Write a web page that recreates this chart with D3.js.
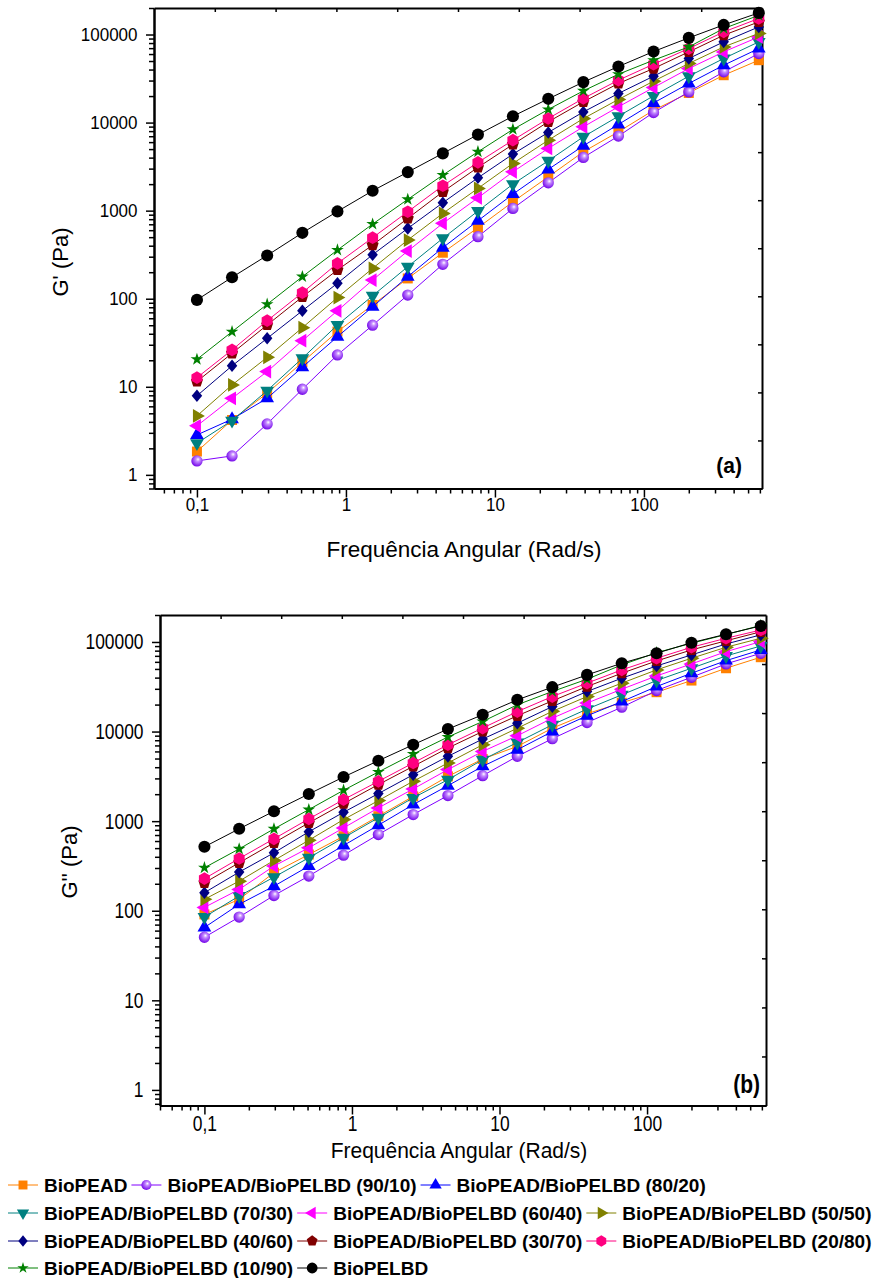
<!DOCTYPE html>
<html>
<head>
<meta charset="utf-8">
<script src="https://cdn.jsdelivr.net/npm/d3@7"></script>
<style>
body { margin: 0; background: #fff; }
svg { display: block; font-family: "Liberation Sans", Arial, sans-serif; }
</style>
</head>
<body>
<script>
// angular frequency (rad/s), same sweep for both panels
var freq = [0.1, 0.172, 0.296, 0.51, 0.877, 1.51, 2.6, 4.47, 7.69, 13.2, 22.8, 39.2, 67.4, 116, 200, 343, 590];

var seriesNames = [
    "BioPEAD",
    "BioPEAD/BioPELBD (90/10)",
    "BioPEAD/BioPELBD (80/20)",
    "BioPEAD/BioPELBD (70/30)",
    "BioPEAD/BioPELBD (60/40)",
    "BioPEAD/BioPELBD (50/50)",
    "BioPEAD/BioPELBD (40/60)",
    "BioPEAD/BioPELBD (30/70)",
    "BioPEAD/BioPELBD (20/80)",
    "BioPEAD/BioPELBD (10/90)",
    "BioPELBD"
];
var seriesColors = ["#ff8000", "#8000ff", "#0000ff", "#008080", "#ff00ff", "#808000",
    "#000080", "#800000", "#ff0080", "#008000", "#000000"];
var seriesShapes = ["square", "sphere", "triUp", "triDown", "triLeft", "triRight",
    "diamond", "pentagon", "hexagon", "star", "circle"];

// G' (Pa), storage modulus, panel (a)
var gStorage = [
    [1.84, 4.2, 8.45, 19, 42.3, 85, 170, 333, 640, 1260, 2420, 4660, 7850, 13800, 21700, 34500, 51100],
    [1.44, 1.64, 3.79, 9.38, 23, 50, 110, 246, 506, 1060, 2070, 4020, 7020, 13000, 22300, 37700, 60800],
    [2.84, 4.29, 7.4, 16.7, 37, 81, 178, 380, 768, 1540, 2940, 5450, 9520, 16700, 27800, 44800, 69300],
    [2.29, 4.13, 9.05, 21.1, 50.3, 108, 231, 485, 990, 2000, 3680, 6890, 11800, 20100, 33600, 53400, 82500],
    [3.6, 7.4, 14.9, 33.4, 73, 163, 348, 717, 1400, 2760, 5090, 8950, 15100, 25000, 41100, 63500, 94000],
    [4.67, 10.5, 21.6, 46.9, 103, 221, 464, 931, 1790, 3440, 6310, 11100, 18300, 29500, 46900, 72300, 103000],
    [7.9, 17.3, 35.5, 73, 150, 316, 629, 1230, 2360, 4385, 7730, 13200, 21400, 33600, 53400, 82500, 122000],
    [11.5, 24, 50.3, 105, 212, 407, 817, 1638, 3100, 5650, 10200, 17200, 27800, 41100, 63500, 98200, 139000],
    [12.7, 26.2, 56.3, 117, 252, 493, 972, 1918, 3530, 6310, 11130, 18800, 30300, 46000, 69300, 107000, 152000],
    [20.5, 42.2, 86.5, 178, 357, 704, 1343, 2535, 4660, 8360, 14100, 22900, 35400, 51100, 72300, 117000, 165000],
    [97, 175, 310, 560, 980, 1680, 2740, 4470, 7300, 11800, 18600, 28800, 43300, 64100, 91600, 128500, 176000]
];

// G'' (Pa), loss modulus, panel (b)
var gLoss = [
    [91, 134, 266, 424, 679, 1135, 1890, 3160, 4940, 6830, 10900, 15800, 21000, 27500, 37100, 50900, 67600],
    [50.6, 85, 148, 244, 417, 709, 1185, 1930, 3220, 5290, 8320, 12600, 18700, 28700, 40400, 56900, 74800],
    [65, 118, 188, 315, 535, 901, 1530, 2490, 4090, 6270, 10000, 15000, 21600, 31800, 44800, 61900, 81500],
    [85, 146, 237, 390, 652, 1090, 1820, 2900, 4850, 7560, 11900, 17800, 25700, 37100, 50900, 69800, 90200],
    [109, 173, 315, 504, 841, 1405, 2290, 3760, 6000, 8980, 14100, 20800, 29700, 41800, 56900, 78000, 101000],
    [134, 214, 364, 612, 1042, 1695, 2790, 4460, 7130, 10900, 16800, 24600, 34700, 48800, 65800, 87300, 110000],
    [159, 270, 443, 760, 1256, 2030, 3300, 5290, 8250, 12400, 19000, 28000, 39400, 54000, 71700, 95000, 120000],
    [205, 343, 573, 956, 1570, 2560, 4090, 6550, 10030, 15000, 22000, 31800, 44800, 61400, 81500, 103000, 130000],
    [228, 383, 635, 1060, 1740, 2780, 4460, 7130, 10950, 16700, 24600, 34700, 48800, 65800, 87300, 110000, 136000],
    [302, 490, 820, 1346, 2210, 3540, 5610, 8690, 12970, 19900, 28000, 38400, 55500, 76000, 96700, 121000, 153000],
    [517, 821, 1290, 2010, 3110, 4730, 7130, 10660, 15400, 22600, 31300, 42900, 57900, 74800, 98200, 122000, 151000]
];

var xMajorTicks = [0.1, 1, 10, 100];
var yMajorTicks = [1, 10, 100, 1000, 10000, 100000];
var legendRows = [[0, 1, 2], [3, 4, 5], [6, 7, 8], [9, 10]];

var W = 874, H = 1278;
var svg = d3.select("body").append("svg").attr("width", W).attr("height", H);

var defs = svg.append("defs");
var grad = defs.append("radialGradient").attr("id", "sphere")
    .attr("cx", "0.55").attr("cy", "0.42").attr("r", "0.6")
    .attr("fx", "0.6").attr("fy", "0.35");
grad.append("stop").attr("offset", "0%").attr("stop-color", "#ffffff");
grad.append("stop").attr("offset", "30%").attr("stop-color", "#c58cff");
grad.append("stop").attr("offset", "100%").attr("stop-color", "#7000e8");

//Custom marker shapes
function polygonType(n) {
    return {
        draw: function (ctx, size) {
            var r = Math.sqrt(size / (n / 2 * Math.sin(2 * Math.PI / n)));
            for (var i = 0; i < n; i++) {
                var a = -Math.PI / 2 + i * 2 * Math.PI / n;
                if (i === 0) ctx.moveTo(r * Math.cos(a), r * Math.sin(a));
                else ctx.lineTo(r * Math.cos(a), r * Math.sin(a));
            }
            ctx.closePath();
        }
    };
}
var rhombus = {
    draw: function (ctx, size) {
        var w = Math.sqrt(size / 0.6), h = 1.2 * w;
        ctx.moveTo(0, -h / 2);
        ctx.lineTo(w / 2, 0);
        ctx.lineTo(0, h / 2);
        ctx.lineTo(-w / 2, 0);
        ctx.closePath();
    }
};

var shapeSpec = {
    square: { type: d3.symbolSquare, size: 100, rot: 0 },
    sphere: { type: d3.symbolCircle, size: 100, rot: 0 },
    triUp: { type: d3.symbolTriangle, size: 82, rot: 0 },
    triDown: { type: d3.symbolTriangle, size: 82, rot: 180 },
    triLeft: { type: d3.symbolTriangle, size: 82, rot: -90 },
    triRight: { type: d3.symbolTriangle, size: 82, rot: 90 },
    diamond: { type: rhombus, size: 66, rot: 0 },
    pentagon: { type: polygonType(5), size: 95, rot: 0 },
    hexagon: { type: polygonType(6), size: 105, rot: 0 },
    star: { type: d3.symbolStar, size: 50, rot: 0 },
    circle: { type: d3.symbolCircle, size: 115, rot: 0 }
};

function markerFill(i) {
    return seriesShapes[i] === "sphere" ? "url(#sphere)" : seriesColors[i];
}

function minorTicks(lo, hi) {
    var out = [];
    for (var e = -3; e <= 6; e++) {
        for (var m = 2; m <= 9; m++) {
            var v = m * Math.pow(10, e);
            if (v >= lo && v <= hi) out.push(v);
        }
    }
    return out;
}

function drawPanel(p) {
    var g = svg.append("g");
    var x = d3.scaleLog().domain(p.xDomain).range([p.left, p.right]);
    var y = d3.scaleLog().domain(p.yDomain).range([p.bottom, p.top]);
    var sy = p.textScale;

    // frame: top and right with inward ticks dividing in 10 parts
    var xLin = d3.scaleLinear().domain([0, 10]).range([p.left, p.right]);
    var yLin = d3.scaleLinear().domain([0, 10]).range([p.bottom, p.top]);
    g.append("g").attr("transform", "translate(0," + p.top + ")")
        .call(d3.axisTop(xLin).tickValues(d3.range(1, 10)).tickSize(-4).tickSizeOuter(0).tickFormat(""))
        .call(styleAxis);
    g.append("g").attr("transform", "translate(" + p.right + ",0)")
        .call(d3.axisRight(yLin).tickValues(d3.range(1, 10)).tickSize(-4).tickSizeOuter(0).tickFormat(""))
        .call(styleAxis);

    // minor ticks
    g.append("g").attr("transform", "translate(0," + p.bottom + ")")
        .call(d3.axisBottom(x).tickValues(minorTicks(p.xDomain[0], p.xDomain[1])).tickSize(5).tickSizeOuter(0).tickFormat(""))
        .call(styleAxis);
    g.append("g").attr("transform", "translate(" + p.left + ",0)")
        .call(d3.axisLeft(y).tickValues(minorTicks(p.yDomain[0], p.yDomain[1])).tickSize(5).tickSizeOuter(0).tickFormat(""))
        .call(styleAxis);

    // major axes
    var xAx = g.append("g").attr("transform", "translate(0," + p.bottom + ")")
        .call(d3.axisBottom(x).tickValues(xMajorTicks).tickSize(9).tickSizeOuter(0).tickPadding(p.xPad)
            .tickFormat(function (d) { return String(d).replace(".", ","); }))
        .call(styleAxis);
    var yAx = g.append("g").attr("transform", "translate(" + p.left + ",0)")
        .call(d3.axisLeft(y).tickValues(yMajorTicks).tickSize(8).tickSizeOuter(0).tickPadding(8.5)
            .tickFormat(function (d) { return String(d); }))
        .call(styleAxis);
    [xAx, yAx].forEach(function (ax) {
        ax.selectAll("text")
            .attr("font-size", p.fontSize)
            .attr("fill", "#000")
            .attr("font-family", "Liberation Sans, Arial, sans-serif")
            .attr("transform", "scale(1," + sy + ")");
    });

    // series
    var line = d3.line()
        .x(function (d) { return x(d[0]); })
        .y(function (d) { return y(d[1]); });
    p.data.forEach(function (vals, i) {
        var pts = freq.map(function (f, k) { return [f, vals[k]]; });
        var sg = g.append("g");
        sg.append("path").datum(pts)
            .attr("d", line)
            .attr("fill", "none")
            .attr("stroke", seriesColors[i])
            .attr("stroke-width", 1);
        var spec = shapeSpec[seriesShapes[i]];
        var sym = d3.symbol().type(spec.type).size(spec.size);
        sg.selectAll("path.m").data(pts).enter().append("path")
            .attr("class", "m")
            .attr("d", sym)
            .attr("transform", function (d) {
                return "translate(" + x(d[0]) + "," + y(d[1]) + ") rotate(" + spec.rot + ")";
            })
            .attr("fill", markerFill(i));
    });

    // titles
    g.append("text")
        .attr("transform", "translate(" + p.yTitleX + "," + p.yTitleY + ") rotate(-90)")
        .attr("text-anchor", "middle")
        .attr("font-size", 22)
        .text(p.yTitle);
    g.append("text")
        .attr("transform", "translate(" + p.xTitleX + "," + p.xTitleY + ") scale(1," + p.xTitleScale + ")")
        .attr("text-anchor", "middle")
        .attr("font-size", p.xTitleSize)
        .text("Frequência Angular (Rad/s)");
    g.append("text")
        .attr("transform", "translate(" + p.letterX + "," + p.letterY + ") scale(1," + sy + ")")
        .attr("text-anchor", "end")
        .attr("font-size", 21)
        .attr("font-weight", "bold")
        .text(p.letter);
}

function styleAxis(sel) {
    sel.select(".domain").attr("stroke", "#000").attr("stroke-width", 2);
    sel.selectAll(".tick line").attr("stroke", "#000").attr("stroke-width", 1.5);
}

drawPanel({
    left: 154, right: 762, top: 8, bottom: 488.5,
    xDomain: [0.0515, 620], yDomain: [0.7, 200000],
    data: gStorage, fontSize: 17, textScale: 1.08, xPad: 0,
    yTitle: "G' (Pa)", yTitleX: 68, yTitleY: 262,
    xTitleX: 464, xTitleY: 557, xTitleSize: 22.5, xTitleScale: 1,
    letter: "(a)", letterX: 742, letterY: 473
});

drawPanel({
    left: 160, right: 766, top: 615, bottom: 1105.5,
    xDomain: [0.05, 640], yDomain: [0.67, 200000],
    data: gLoss, fontSize: 17.4, textScale: 1.25, xPad: -1,
    yTitle: "G'' (Pa)", yTitleX: 77, yTitleY: 862,
    xTitleX: 459, xTitleY: 1158, xTitleSize: 21, xTitleScale: 1.05,
    letter: "(b)", letterX: 760, letterY: 1093
});

// legend
var legendY = [1185, 1213, 1241, 1268];
var lg = svg.append("g");
legendRows.forEach(function (row, r) {
    var cx = 8;
    var cy = legendY[r];
    row.forEach(function (i) {
        lg.append("line")
            .attr("x1", cx).attr("x2", cx + 30)
            .attr("y1", cy).attr("y2", cy)
            .attr("stroke", seriesColors[i]).attr("stroke-width", 1);
        var spec = shapeSpec[seriesShapes[i]];
        lg.append("path")
            .attr("d", d3.symbol().type(spec.type).size(spec.size * 0.8)())
            .attr("transform", "translate(" + (cx + 15) + "," + cy + ") rotate(" + spec.rot + ")")
            .attr("fill", markerFill(i));
        var t = lg.append("text")
            .attr("x", cx + 36).attr("y", cy + 6.5)
            .attr("font-size", 19)
            .attr("font-weight", "bold")
            .text(seriesNames[i]);
        cx = cx + 36 + t.node().getComputedTextLength() + 4;
    });
});
</script>
</body>
</html>
